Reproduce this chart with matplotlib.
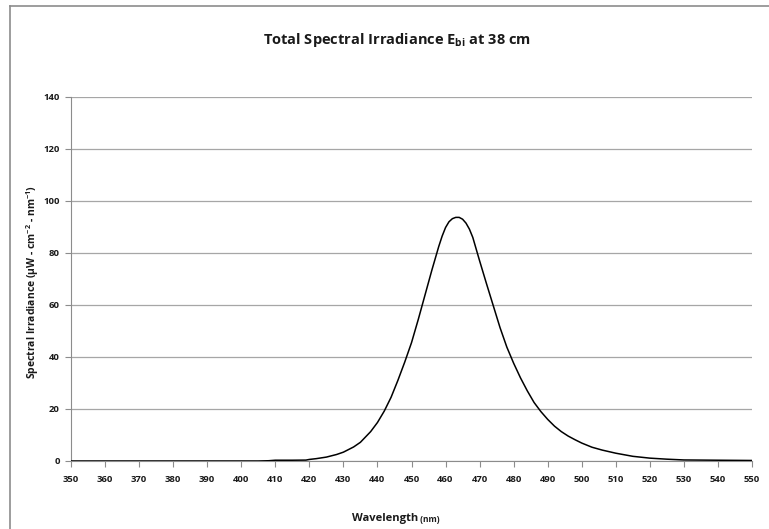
import matplotlib
matplotlib.use("Agg")
import matplotlib.pyplot as plt
from matplotlib.lines import Line2D

# Data
wavelength = [350, 360, 370, 380, 390, 400, 405, 408, 410, 415, 419, 420, 422, 425, 428,
              430, 433, 435, 438, 440, 442, 444, 446, 448, 450, 452, 454, 456, 458, 459,
              460, 461, 462, 463, 464, 465, 466, 467, 468, 470, 472, 474, 476, 478, 480, 482,
              484, 486, 488, 490, 492, 494, 496, 498, 500, 503, 506, 510, 515, 520,
              525, 530, 540, 550]
irradiance = [0.0, 0.0, 0.0, 0.0, 0.0, 0.0, 0.0, 0.1, 0.3, 0.3, 0.35, 0.6, 0.9, 1.5, 2.5,
              3.4, 5.4, 7.2, 11.3, 14.8, 19.2, 24.5, 31.0, 38.0, 45.5, 54.5, 64.0, 73.5, 82.5, 86.5,
              89.8, 92.0, 93.2, 93.7, 93.7, 93.0, 91.5, 89.2, 86.0, 77.0, 68.3, 59.8, 51.3, 43.8, 37.6, 32.0,
              27.0, 22.5, 19.0, 16.0, 13.4, 11.3, 9.6, 8.2, 6.9, 5.3, 4.2, 3.0, 1.8, 1.1,
              0.7, 0.4, 0.3, 0.2]
x_ticks = list(range(350, 551, 10))
y_ticks = list(range(0, 141, 20))

plt.rcParams['font.family'] = ['Open Sans', 'DejaVu Sans']
plt.rcParams['mathtext.fontset'] = 'custom'
plt.rcParams['mathtext.bf'] = 'Open Sans:bold'
plt.rcParams['mathtext.rm'] = 'Open Sans:bold'
plt.rcParams['mathtext.default'] = 'bf'

fig = plt.figure(figsize=(7.69, 5.29), dpi=100)
ax = fig.add_axes([71/769, 1-461/529, (752-71)/769, (461-97)/529])

ax.plot(wavelength, irradiance, color='black', lw=1.1, zorder=3)

ax.set_xlim(350, 550)
ax.set_ylim(0, 140)
ax.set_xticks(x_ticks)
ax.set_yticks(y_ticks)
ax.tick_params(axis='both', labelsize=6.8, colors='#8c8c8c', length=4, width=0.8,
               direction='out', labelcolor='#1a1a1a')
for lab in ax.get_xticklabels() + ax.get_yticklabels():
    lab.set_fontweight('bold')
ax.tick_params(axis='x', pad=6)
ax.tick_params(axis='y', pad=4)

ax.yaxis.grid(True, color='#a6a6a6', lw=0.9)
ax.set_axisbelow(True)
for s in ['top', 'right']:
    ax.spines[s].set_visible(False)
ax.spines['left'].set_color('#8c8c8c')
ax.spines['bottom'].set_color('#8c8c8c')

fig.text(397/769, 1-40/529, r"Total Spectral Irradiance E$_{bi}$ at 38 cm",
         ha='center', va='center', fontsize=10.5, fontweight='bold', color='#1a1a1a')

fig.text(33/769, 1-282/529, r"Spectral Irradiance (µW - cm$^{-2}$ - nm$^{-1}$)",
         ha='center', va='center', rotation=90, fontsize=7.5, fontweight='bold',
         color='#1a1a1a')

t1 = fig.text(418/769, 1-521/529, "Wavelength", ha='right', va='baseline',
              fontsize=8, fontweight='bold', color='#1a1a1a')
ax.annotate(" (nm)", xy=(1, 0), xycoords=t1, va='bottom', ha='left',
            fontsize=6, fontweight='bold', color='#1a1a1a')

# chart border (top and left edges visible)
fig.add_artist(Line2D([10/769, 10/769], [0, 1-6/529], transform=fig.transFigure,
                      color='#8c8c8c', lw=1.2))
fig.add_artist(Line2D([10/769, 1], [1-6/529, 1-6/529], transform=fig.transFigure,
                      color='#8c8c8c', lw=1.2))

fig.savefig("out.png", dpi=100)
